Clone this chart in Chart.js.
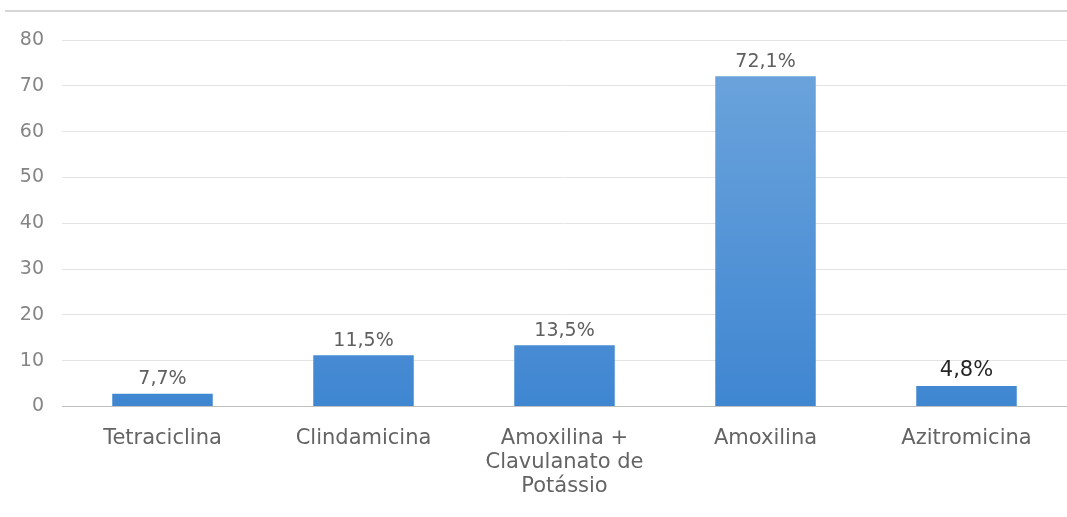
<!DOCTYPE html>
<html>
<head>
<meta charset="utf-8">
<script src="https://cdn.jsdelivr.net/npm/chart.js@4"></script>
<style>
  html, body { margin: 0; padding: 0; background: #ffffff; }
  #wrap { position: relative; width: 1067px; height: 517px; }
  #wrap:before { content: ""; position: absolute; left: 5px; right: 0; top: 10px; height: 2px; background: #d6d6d6; }
</style>
</head>
<body>
<div id="wrap"><canvas id="chart" width="1067" height="517"></canvas></div>
<script>
// Categories and values
const categories = [ "Tetraciclina", "Clindamicina", [ "Amoxilina +", "Clavulanato de", "Potássio" ], "Amoxilina", "Azitromicina" ];
const barValues = [ 2.8, 11.2, 13.4, 72.1, 4.5 ];
const barLabels = [ "7,7%", "11,5%", "13,5%", "72,1%", "4,8%" ];
const yTicks = [ 0, 10, 20, 30, 40, 50, 60, 70, 80 ];

// Draws the percentage text above each bar
const valueLabels = {
  id: "valueLabels",
  afterDatasetsDraw( chart ) {
    let ctx = chart.ctx;
    let meta = chart.getDatasetMeta( 0 );
    ctx.save();
    ctx.textAlign = "center";
    ctx.textBaseline = "bottom";
    meta.data.forEach( ( bar, i ) => {
      let last = i === barLabels.length - 1;
      ctx.font = last ? "21px 'DejaVu Sans'" : "19px 'DejaVu Sans'";
      ctx.fillStyle = last ? "#262626" : "#606060";
      ctx.fillText( barLabels[ i ], bar.x, bar.y - 5 );
    } );
    ctx.restore();
  }
};

let canvas = document.getElementById( "chart" );

new Chart( canvas, {
  type: "bar",
  data: {
    labels: categories,
    datasets: [ {
      data: barValues,
      backgroundColor: ( context ) => {
        let area = context.chart.chartArea;
        if ( !area ) return "#5b9bd5";
        let g = context.chart.ctx.createLinearGradient( 0, area.top, 0, area.bottom );
        g.addColorStop( 0, "#6fa6dd" );
        g.addColorStop( 1, "#3f86d1" );
        return g;
      },
      borderWidth: 0,
      categoryPercentage: 1,
      barPercentage: 0.5
    } ]
  },
  options: {
    responsive: false,
    animation: false,
    layout: { padding: { top: 40, left: 0, right: 0, bottom: 6 } },
    plugins: { legend: { display: false }, tooltip: { enabled: false } },
    scales: {
      x: {
        grid: { display: false },
        border: { color: "#bfbfbf", width: 1 },
        ticks: { color: "#646464", font: { size: 21, family: "'DejaVu Sans'", lineHeight: 1.15 }, padding: 12, maxRotation: 0, autoSkip: false }
      },
      y: {
        min: yTicks[ 0 ],
        max: yTicks[ yTicks.length - 1 ],
        afterBuildTicks: ( axis ) => { axis.ticks = yTicks.map( ( v ) => ( { value: v } ) ); },
        afterFit: ( axis ) => { axis.width = 62; },
        grid: { color: "#e4e4e4", drawTicks: false },
        border: { display: false },
        ticks: { color: "#858585", font: { size: 19, family: "'DejaVu Sans'" }, padding: 18 }
      }
    }
  },
  plugins: [ valueLabels ]
} );
</script>
</body>
</html>
